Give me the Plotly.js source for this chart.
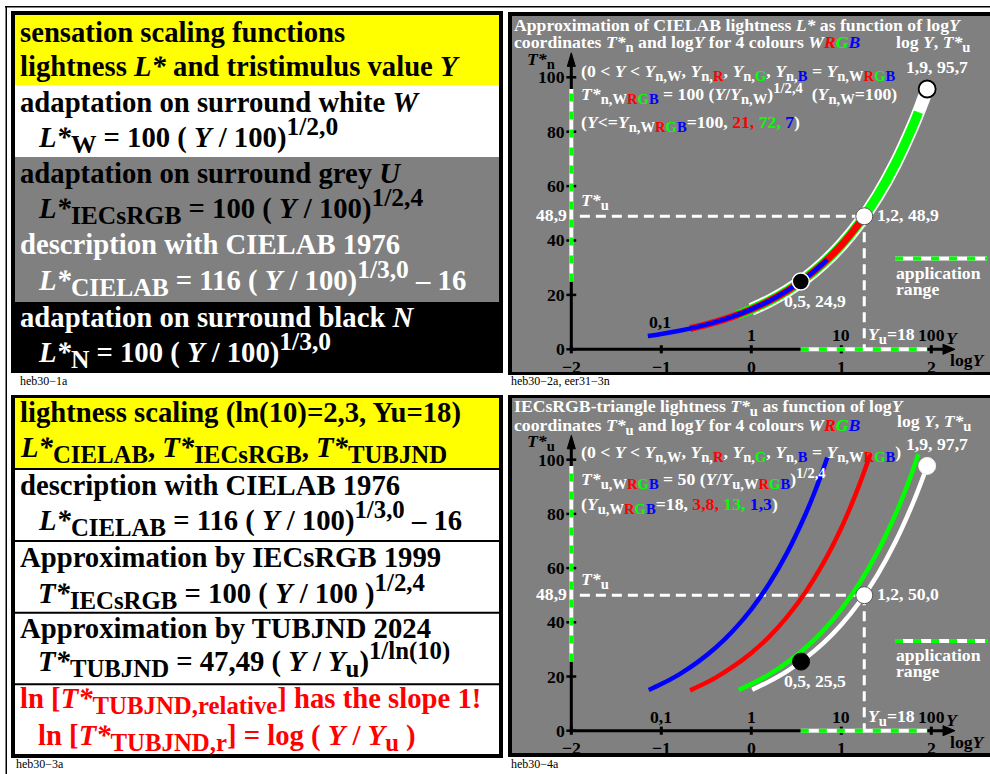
<!DOCTYPE html>
<html><head><meta charset="utf-8">
<script src="https://cdn.plot.ly/plotly-3.0.1.min.js"></script>
<style>html,body{margin:0;padding:0;background:#fff}</style>
</head><body>
<div id="chart" style="width:990px;height:774px"></div>
<script>
// ---------------- data ----------------
// top chart: T*_n over log Y for W, G, R, B (same curve, different ranges)
const topW_logY = [0.0, 0.2, 0.4, 0.6, 0.8, 1.0, 1.2, 1.4, 1.6, 1.8, 1.9, 1.954];
const topW_T    = [14.68, 17.78, 21.54, 26.10, 31.62, 38.31, 46.42, 56.23, 68.13, 82.54, 90.85, 95.7];
const topG_logY = [-0.15, 0.0, 0.2, 0.4, 0.6, 0.8, 1.0, 1.2, 1.4, 1.6, 1.8, 1.857];
const topG_T    = [12.71, 14.68, 17.78, 21.54, 26.10, 31.62, 38.31, 46.42, 56.23, 68.13, 82.54, 87.19];
const topR_logY = [-0.68, -0.6, -0.4, -0.2, 0.0, 0.2, 0.4, 0.6, 0.8, 1.0, 1.2, 1.25];
const topR_T    = [7.64, 8.25, 10.00, 12.12, 14.68, 17.78, 21.54, 26.10, 31.62, 38.31, 46.42, 48.70];
const topB_logY = [-1.15, -1.0, -0.8, -0.6, -0.4, -0.2, 0.0, 0.2, 0.4, 0.6, 0.8, 0.845];
const topB_T    = [4.87, 5.62, 6.81, 8.25, 10.00, 12.12, 14.68, 17.78, 21.54, 26.10, 31.62, 33.02];
const topPts_logY = [1.954, 1.255, 0.55];
const topPts_T    = [95.7, 48.9, 24.9];
const topPtsText  = ['1,9, 95,7', '1,2, 48,9', '0,5, 24,9'];
const topTu = 48.9;

// bottom chart: T*_u over log Y for W, G, R, B
const botW_logY = [0.01, 0.2, 0.4, 0.6, 0.8, 1.0, 1.2, 1.4, 1.6, 1.8, 1.9, 1.954];
const botW_T    = [15.1, 18.2, 22.0, 26.7, 32.3, 39.1, 47.4, 57.4, 69.6, 84.3, 92.8, 97.7];
const botG_logY = [-0.14, 0.0, 0.2, 0.4, 0.6, 0.8, 1.0, 1.2, 1.4, 1.6, 1.7, 1.8, 1.857];
const botG_T    = [15.0, 17.2, 20.8, 25.2, 30.5, 37.0, 44.8, 54.3, 65.8, 79.7, 87.7, 96.6, 102.0];
const botR_logY = [-0.68, -0.6, -0.4, -0.2, 0.0, 0.2, 0.4, 0.6, 0.8, 1.0, 1.1, 1.2, 1.322];
const botR_T    = [14.9, 16.1, 19.5, 23.7, 28.7, 34.7, 42.1, 51.0, 61.8, 74.8, 82.4, 90.7, 101.9];
const botB_logY = [-1.14, -1.0, -0.8, -0.6, -0.4, -0.2, 0.0, 0.2, 0.4, 0.6, 0.7, 0.8, 0.845];
const botB_T    = [15.0, 17.2, 20.8, 25.2, 30.5, 37.0, 44.8, 54.3, 65.8, 79.7, 87.7, 96.6, 100.8];
const botPts_logY = [1.954, 1.255, 0.553];
const botPts_T    = [97.7, 50.0, 25.5];
const botPtsText  = ['1,9, 97,7', '1,2, 50,0', '0,5, 25,5'];
const botTu = 50.0;

const logYu = 1.255;
// application range
const appLogY = [0.55, 1.954];
const appTop  = [24.9, 95.7];
const appBot  = [25.5, 97.7];

// ticks
const xTickVals = [-2, -1, 0, 1, 2];
const xTickText = ['−2', '−1', '0', '1', '2'];
const yTickVals = [0, 20, 40, 60, 80, 100];
const yTickText = ['0', '20', '40', '60', '80', '100'];
const yUpVals = [-1, 0, 1, 2];
const yUpTextTop = ['', '1', '10', '100'];
const yUpTextBot = ['0,1', '1', '10', '100'];

// ---------------- drawing ----------------
const W = 990, H = 774;
const FONT = 'Liberation Serif, Times New Roman, serif';
const GREY = '#808080';
const RED = '#ff0000', GREEN = '#00ff00', BLUE = '#0000ff';
const col = (c, t) => `<span style="color:${c}">${t}</span>`;
const WRGB = 'W' + col(RED, 'R') + col(GREEN, 'G') + col(BLUE, 'B');

const FSL = 28.7, SL = 25.5, SL2 = 24.8;   // left panels: main and sub/sup sizes
const FSR = 17.7, SR = 14.6;               // right panels
const sbS = (t, s) => `<sub><span style="font-size:${s}px">${t}</span></sub>`;
const spS = (t, s) => `<sup><span style="font-size:${s}px">${t}</span></sup>`;
const sbL = t => sbS(t, SL), spL = t => spS(t, SL);
const sbM = t => sbS(t, SL2), spM = t => spS(t, SL2);
const sbR = t => sbS(t, SR), spR = t => spS(t, SR);

const shapes = [];
const annotations = [];

function prect(x0, y0, x1, y1, fill) {
  shapes.push({type: 'rect', xref: 'paper', yref: 'paper', x0: x0 / W, x1: x1 / W,
    y0: 1 - y1 / H, y1: 1 - y0 / H, fillcolor: fill, line: {width: 0}, layer: 'below'});
}
function lineCenter(baseline, fs, txt) {
  const S = fs > 20 ? SL : SR;
  let top = 0.891 * fs, bot = 0.216 * fs;
  if (txt.includes('<sup>')) top = Math.max(top, 0.42 * fs + 0.891 * S);
  if (txt.includes('<sub>')) bot = Math.max(bot, 0.21 * fs + 0.216 * S);
  return baseline - (top - bot) / 2;
}
function ptext(txt, x, baseline, fs, color, opts) {
  opts = opts || {};
  annotations.push({xref: 'paper', yref: 'paper', x: x / W, y: 1 - lineCenter(baseline, fs, txt) / H,
    xanchor: opts.xanchor || 'left', yanchor: 'middle', showarrow: false,
    text: opts.plain ? txt : '<b>' + txt + '</b>', borderpad: 0,
    font: {family: FONT, size: fs, color: color}});
}
function dtext(txt, xr, yr, x, y, fs, color, xanchor) {
  annotations.push({xref: xr, yref: yr, x: x, y: y, xanchor: xanchor || 'center', yanchor: 'middle',
    showarrow: false, text: '<b>' + txt + '</b>', borderpad: 0,
    font: {family: FONT, size: fs, color: color}});
}
function seg(xr, yr, x0, y0, x1, y1, color, width, dash) {
  shapes.push({type: 'line', xref: xr, yref: yr, x0, y0, x1, y1,
    line: {color: color, width: width, dash: dash || 'solid'}, layer: 'below'});
}
function tri(xr, yr, path) {
  shapes.push({type: 'path', xref: xr, yref: yr, path: path, fillcolor: '#000',
    line: {color: '#000', width: 1}, layer: 'below'});
}

// frame lines
prect(5, 6, 990, 7.5, '#000');
prect(5.5, 6, 7, 774, '#000');

// ----- top-left text box -----
prect(11, 11, 503, 373, '#000');
prect(15, 15, 499, 85, '#ffff00');
prect(15, 85, 499, 157, '#ffffff');
prect(15, 157, 499, 302, GREY);
ptext('sensation scaling functions', 19, 42, FSL, '#000');
ptext('lightness <i>L*</i> and tristimulus value <i>Y</i>', 19, 76, FSL, '#000');
ptext('adaptation on surround white <i>W</i>', 19, 112, FSL, '#000');
ptext(`<i>L*</i>${sbL('W')} = 100 ( <i>Y</i> / 100)${spL('1/2,0')}`, 37, 147, FSL, '#000');
ptext('adaptation on surround grey <i>U</i>', 19, 183, FSL, '#000');
ptext(`<i>L*</i>${sbL('IECsRGB')} = 100 ( <i>Y</i> / 100)${spL('1/2,4')}`, 37, 218, FSL, '#000');
ptext('description with CIELAB 1976', 19, 254, FSL, '#fff');
ptext(`<i>L*</i>${sbL('CIELAB')} = 116 ( <i>Y</i> / 100)${spL('1/3,0')} – 16`, 37, 290, FSL, '#fff');
ptext('adaptation on surround black <i>N</i>', 19, 327, FSL, '#fff');
ptext(`<i>L*</i>${sbL('N')} = 100 ( <i>Y</i> / 100)${spL('1/3,0')}`, 37, 362, FSL, '#fff');
ptext('heb30−1a', 19, 385, 12, '#000', {plain: true});

// ----- bottom-left text box -----
prect(11, 395, 503, 758, '#000');
prect(15, 398, 499, 468, '#ffff00');
prect(15, 470, 499, 540, '#ffffff');
prect(15, 542, 499, 611.7, '#ffffff');
prect(15, 613.7, 499, 683.3, '#ffffff');
prect(15, 685.3, 499, 754, '#ffffff');
ptext('lightness scaling (ln(10)=2,3, Yu=18)', 19, 421.7, FSL, '#000');
ptext(`<i>L*</i>${sbM('CIELAB')}, <i>T*</i>${sbM('IECsRGB')}, <i>T*</i>${sbM('TUBJND')}`, 19, 456.7, FSL, '#000');
ptext('description with CIELAB 1976', 19, 495, FSL, '#000');
ptext(`<i>L*</i>${sbM('CIELAB')} = 116 ( <i>Y</i> / 100)${spM('1/3,0')} – 16`, 37, 530, FSL, '#000');
ptext('Approximation by IECsRGB 1999', 19, 566.7, FSL, '#000');
ptext(`<i>T*</i>${sbM('IECsRGB')} = 100 ( <i>Y</i> / 100 )${spM('1/2,4')}`, 37, 602.7, FSL, '#000');
ptext('Approximation by TUBJND 2024', 19, 638, FSL, '#000');
ptext(`<i>T*</i>${sbM('TUBJND')} = 47,49 ( <i>Y</i> / <i>Y</i>${sbM('u')})${spM('1/ln(10)')}`, 37, 670.7, FSL, '#000');
ptext(`ln [<i>T*</i>${sbM('TUBJND,relative')}] has the slope 1!`, 19, 708, FSL, RED);
ptext(`ln [<i>T*</i>${sbM('TUBJND,r')}] = log ( <i>Y</i> / <i>Y</i>${sbM('u')} )`, 37, 745, FSL, RED);
ptext('heb30−3a', 15, 768, 12, '#000', {plain: true});

// ----- right panels background -----
prect(508, 12, 995, 375, '#000');
prect(512, 16, 995, 372, GREY);
prect(508, 395, 995, 757, '#000');
prect(512, 398, 995, 753, GREY);
ptext('heb30−2a, eer31−3n', 510, 385, 12, '#000', {plain: true});
ptext('heb30−4a', 510, 768, 12, '#000', {plain: true});

// top-right texts
ptext('Approximation of CIELAB lightness <i>L*</i> as function of log<i>Y</i>', 513, 30.7, FSR, '#fff');
ptext(`coordinates <i>T*</i>${sbR('n')} and log<i>Y</i> for 4 colours <i>${WRGB}</i>`, 513, 48.3, FSR, '#fff');
ptext(`log <i>Y</i>, <i>T*</i>${sbR('u')}`, 895, 48.3, FSR, '#fff');
ptext(`<i>T*</i>${sbR('n')}`, 526, 65, FSR, '#000');
ptext(`(0 &lt; <i>Y</i> &lt; <i>Y</i>${sbR('n,W')}, <i>Y</i>${sbR('n,' + col(RED,'R'))}, <i>Y</i>${sbR('n,' + col(GREEN,'G'))}, <i>Y</i>${sbR('n,' + col(BLUE,'B'))} = <i>Y</i>${sbR('n,' + WRGB)}`, 580, 76.7, FSR, '#fff');
ptext(`<i>T*</i>${sbR('n,' + WRGB)} = 100 (<i>Y</i>/<i>Y</i>${sbR('n,W')})${spR('1/2,4')}  (<i>Y</i>${sbR('n,W')}=100)`, 580, 100, FSR, '#fff');
ptext(`(<i>Y</i>&lt;=<i>Y</i>${sbR('n,' + WRGB)}=100, ${col(RED,'21,')} ${col(GREEN,'72,')} ${col(BLUE,'7')})`, 580, 128.3, FSR, '#fff');

// bottom-right texts
ptext(`IECsRGB-triangle lightness <i>T*</i>${sbR('u')} as function of log<i>Y</i>`, 513, 411.7, FSR, '#fff');
ptext(`coordinates <i>T*</i>${sbR('u')} and log<i>Y</i> for 4 colours <i>${WRGB}</i>`, 513, 431, FSR, '#fff');
ptext(`log <i>Y</i>, <i>T*</i>${sbR('u')}`, 896, 426.7, FSR, '#fff');
ptext(`<i>T*</i>${sbR('u')}`, 526, 447, FSR, '#000');
ptext(`(0 &lt; <i>Y</i> &lt; <i>Y</i>${sbR('n,W')}, <i>Y</i>${sbR('n,' + col(RED,'R'))}, <i>Y</i>${sbR('n,' + col(GREEN,'G'))}, <i>Y</i>${sbR('n,' + col(BLUE,'B'))} = <i>Y</i>${sbR('n,' + WRGB)})`, 580, 458, FSR, '#fff');
ptext(`<i>T*</i>${sbR('u,' + WRGB)} = 50 (<i>Y</i>/<i>Y</i>${sbR('u,' + WRGB)})${spR('1/2,4')}`, 580, 485, FSR, '#fff');
ptext(`(<i>Y</i>${sbR('u,' + WRGB)}=18, ${col(RED,'3,8,')} ${col(GREEN,'13,')} ${col(BLUE,'1,3')})`, 580, 510, FSR, '#fff');

// ----- axes, ticks and guides in data coordinates -----
function chartFrame(xr, yr, upText, ptsX, ptsY, ptsText, Tu, appY, dy) {
  seg(xr, yr, -2, 0, -2, 105, '#000', 3);
  seg(xr, yr, -2, 0, 2.15, 0, '#000', 3);
  tri(xr, yr, 'M 2.263 0 L 2.13 1.85 L 2.13 -1.85 Z');
  tri(xr, yr, 'M -2 109 L -2.045 104 L -1.955 104 Z');
  xTickVals.forEach(v => seg(xr, yr, v, -1.5, v, 1.5, '#000', 3));
  yTickVals.forEach(v => seg(xr, yr, -2.055, v, -1.945, v, '#000', 2.5));
  // Tu dashed guides
  seg(xr, yr, -1.905, Tu, logYu, Tu, '#fff', 3, '10px,6px');
  seg(xr, yr, logYu, Tu, logYu, 0, '#fff', 3, '10px,6px');
  // application range on axes and legend sample (white under green dashes)
  seg(xr, yr, appLogY[0], 0, appLogY[1], 0, '#fff', 4);
  seg(xr, yr, appLogY[0], 0, appLogY[1], 0, GREEN, 4, '8px,10px');
  seg(xr, yr, -2, appY[0], -2, appY[1], '#fff', 4);
  seg(xr, yr, -2, appY[0], -2, appY[1], GREEN, 4, '8px,10px');
  seg(xr, yr, 1.597, 33.4 + dy, 2.62, 33.4 + dy, '#fff', 4);
  seg(xr, yr, 1.597, 33.4 + dy, 2.62, 33.4 + dy, GREEN, 4, '8px,10px');
  dtext('application', xr, yr, 1.597, 28.1 + dy, FSR, '#fff', 'left');
  dtext('range', xr, yr, 1.597, 22.3 + dy, FSR, '#fff', 'left');
  // tick labels
  xTickVals.forEach((v, i) => dtext(xTickText[i], xr, yr, v, -6.45, FSR, '#000'));
  yTickVals.forEach((v, i) => dtext(yTickText[i], xr, yr, -2.058, v, FSR, '#000', 'right'));
  yUpVals.forEach((v, i) => { if (upText[i]) dtext(upText[i], xr, yr, v, 5.4 + dy, FSR, '#000'); });
  dtext('<i>Y</i>', xr, yr, 2.24, 4.0, FSR, '#000');
  dtext('log<i>Y</i>', xr, yr, 2.41, -4.0, FSR, '#000');
  dtext(`<i>Y</i>${sbR('u')}=18`, xr, yr, 1.283, 5.0 + dy, FSR, '#fff', 'left');
  // level labels
  dtext('48,9', xr, yr, -2.037, Tu + 0.5, FSR, '#fff', 'right');
  dtext(`<i>T*</i>${sbR('u')}`, xr, yr, -1.903, Tu + 5.3, FSR, '#fff', 'left');
  // point labels
  dtext(ptsText[0], xr, yr, 1.713, ptsY[0] + 8.2, FSR, '#fff', 'left');
  dtext(ptsText[1], xr, yr, 1.38, ptsY[1] + 0.4, FSR, '#fff', 'left');
  dtext(ptsText[2], xr, yr, 0.352, ptsY[2] - 7.2, FSR, '#fff', 'left');
}
chartFrame('x', 'y', yUpTextTop, topPts_logY, topPts_T, topPtsText, topTu, appTop, 0);
chartFrame('x2', 'y2', yUpTextBot, botPts_logY, botPts_T, botPtsText, botTu, appBot, -0.3);
dtext('0,1', 'x', 'y', -1.147, 10.1, FSR, '#000', 'left');

// ----- traces -----
function curve(x, y, xa, ya, color, width) {
  return {type: 'scatter', mode: 'lines', x: x, y: y, xaxis: xa, yaxis: ya,
    line: {color: color, width: width, shape: 'spline', smoothing: 1}, hoverinfo: 'skip'};
}
const traces = [
  curve(topW_logY, topW_T, 'x', 'y', '#ffffff', 13),
  curve(topG_logY, topG_T, 'x', 'y', GREEN, 9.5),
  curve(topR_logY, topR_T, 'x', 'y', RED, 7),
  curve(topB_logY, topB_T, 'x', 'y', BLUE, 4.5),
  {type: 'scatter', mode: 'markers', x: topPts_logY, y: topPts_T, xaxis: 'x', yaxis: 'y',
   marker: {size: 17, color: ['#fff', '#fff', '#000'],
            line: {color: ['#000', '#555', '#fff'], width: [1.8, 1, 1.5]}}, hoverinfo: 'skip'},
  curve(botB_logY, botB_T, 'x2', 'y2', BLUE, 4.5),
  curve(botR_logY, botR_T, 'x2', 'y2', RED, 4.5),
  curve(botG_logY, botG_T, 'x2', 'y2', GREEN, 4.5),
  curve(botW_logY, botW_T, 'x2', 'y2', '#ffffff', 4.5),
  {type: 'scatter', mode: 'markers', x: botPts_logY, y: botPts_T, xaxis: 'x2', yaxis: 'y2',
   marker: {size: 17, color: ['#fff', '#fff', '#000'],
            line: {color: ['#eee', '#555', '#000'], width: [1, 1, 1]}}, hoverinfo: 'skip'}
];

const xr = [-2 - 59.3 / 90, 2 + 58.7 / 90];
const layout = {
  width: W, height: H, autosize: false,
  margin: {l: 0, r: 0, t: 0, b: 0, pad: 0},
  paper_bgcolor: '#ffffff', plot_bgcolor: 'rgba(0,0,0,0)',
  showlegend: false,
  xaxis:  {domain: [512 / W, 1], range: xr, visible: false, fixedrange: true, anchor: 'y'},
  yaxis:  {domain: [1 - 372 / H, 1 - 16 / H], range: [-22.7 / 2.72, 333.3 / 2.72], visible: false, fixedrange: true, anchor: 'x'},
  xaxis2: {domain: [512 / W, 1], range: xr, visible: false, fixedrange: true, anchor: 'y2'},
  yaxis2: {domain: [1 - 753 / H, 1 - 398 / H], range: [-22.3 / 2.71, 332.7 / 2.71], visible: false, fixedrange: true, anchor: 'x2'},
  shapes: shapes,
  annotations: annotations,
  font: {family: FONT}
};
Plotly.newPlot('chart', traces, layout, {staticPlot: true, displayModeBar: false});
</script>
</body></html>
